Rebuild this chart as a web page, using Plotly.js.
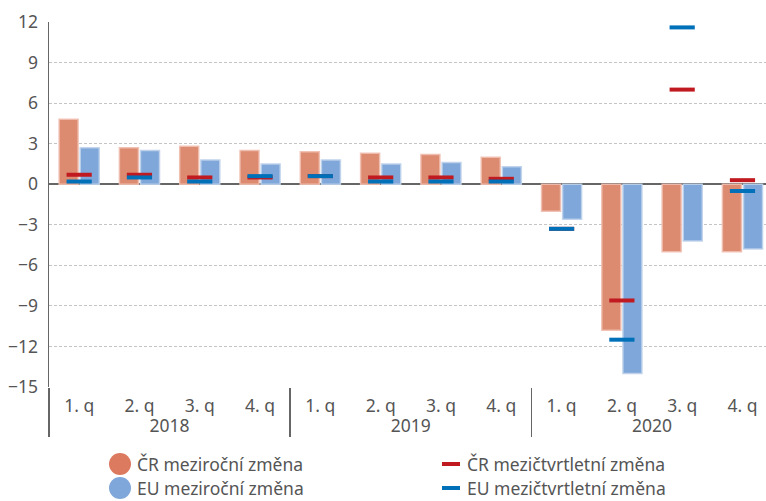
<!DOCTYPE html>
<html>
<head>
<meta charset="utf-8">
<script src="https://cdn.plot.ly/plotly-3.0.1.min.js"></script>
<style>html,body{margin:0;padding:0;background:#fff;}#chart{width:766px;height:501px;}</style>
</head>
<body>
<div id="chart"></div>
<script>
// ---- data ----
var years = ["2018","2018","2018","2018","2019","2019","2019","2019","2020","2020","2020","2020"];
var quarters = ["1. q","2. q","3. q","4. q","1. q","2. q","3. q","4. q","1. q","2. q","3. q","4. q"];
var crYoY = [4.8, 2.7, 2.8, 2.5, 2.4, 2.3, 2.2, 2.0, -2.0, -10.8, -5.0, -5.0];
var euYoY = [2.7, 2.5, 1.8, 1.5, 1.8, 1.5, 1.6, 1.3, -2.6, -14.0, -4.2, -4.8];
var crQoQ = [0.7, 0.7, 0.5, 0.5, 0.6, 0.5, 0.5, 0.4, -3.3, -8.6, 7.0, 0.3];
var euQoQ = [0.2, 0.5, 0.2, 0.6, 0.6, 0.2, 0.2, 0.2, -3.3, -11.5, 11.6, -0.5];
var seriesNames = ["ČR meziroční změna", "EU meziroční změna", "ČR mezičtvrtletní změna", "EU mezičtvrtletní změna"];
var yTicks = [-15, -12, -9, -6, -3, 0, 3, 6, 9, 12];

// ---- styles ----
var FONT = "'Noto Sans', 'Open Sans', sans-serif";
var FS = 17.5;
var TXT = "#555555";
var cCR = "rgb(220,138,112)", cEU = "rgb(127,167,217)";
var cCRq = "rgb(192,26,32)", cEUq = "rgb(0,112,185)";
var x = [years, quarters];

var traces = [
  {type:"bar", name:seriesNames[0], x:x, y:crYoY, marker:{color:cCR, line:{color:"rgba(240,190,175,0.9)", width:1.5}}, showlegend:false, hoverinfo:"y"},
  {type:"bar", name:seriesNames[1], x:x, y:euYoY, marker:{color:cEU, line:{color:"rgba(190,210,235,0.9)", width:1.5}}, showlegend:false, hoverinfo:"y"},
  {type:"scatter", mode:"markers", name:seriesNames[2], x:x, y:crQoQ, marker:{symbol:"line-ew", size:18, line:{color:cCRq, width:4}}, showlegend:false, cliponaxis:false},
  {type:"scatter", mode:"markers", name:seriesNames[3], x:x, y:euQoQ, marker:{symbol:"line-ew", size:18, line:{color:cEUq, width:4}}, showlegend:false, cliponaxis:false}
];

// legend drawn in paper coordinates
var L = 49, R = 766, T = 22, B = 387;
function px(v){ return (v - L) / (R - L); }
function py(v){ return (B - v) / (B - T); }
var legendRows = [464, 488];
var shapes = [
  {type:"circle", xref:"paper", yref:"paper", xsizemode:"pixel", ysizemode:"pixel", xanchor:px(120), yanchor:py(legendRows[0]), x0:-11, x1:11, y0:-11, y1:11, fillcolor:"rgb(220,122,96)", line:{width:0}},
  {type:"circle", xref:"paper", yref:"paper", xsizemode:"pixel", ysizemode:"pixel", xanchor:px(120), yanchor:py(legendRows[1]), x0:-11, x1:11, y0:-11, y1:11, fillcolor:cEU, line:{width:0}},
  {type:"rect", xref:"paper", yref:"paper", ysizemode:"pixel", yanchor:py(legendRows[0]), x0:px(442), x1:px(460), y0:-2, y1:2, fillcolor:cCRq, line:{width:0}},
  {type:"rect", xref:"paper", yref:"paper", ysizemode:"pixel", yanchor:py(legendRows[1]), x0:px(442), x1:px(460), y0:-2, y1:2, fillcolor:cEUq, line:{width:0}}
];
var annFont = {family:FONT, size:FS, color:TXT};
var annotations = [
  {xref:"paper", yref:"paper", x:px(135), y:py(legendRows[0]), text:seriesNames[0], showarrow:false, xanchor:"left", yanchor:"middle", font:annFont},
  {xref:"paper", yref:"paper", x:px(135), y:py(legendRows[1]), text:seriesNames[1], showarrow:false, xanchor:"left", yanchor:"middle", font:annFont},
  {xref:"paper", yref:"paper", x:px(465), y:py(legendRows[0]), text:seriesNames[2], showarrow:false, xanchor:"left", yanchor:"middle", font:annFont},
  {xref:"paper", yref:"paper", x:px(465), y:py(legendRows[1]), text:seriesNames[3], showarrow:false, xanchor:"left", yanchor:"middle", font:annFont}
];

var layout = {
  width:766, height:501,
  margin:{l:L, r:0, t:T, b:501-B, pad:0},
  paper_bgcolor:"#fff", plot_bgcolor:"#fff",
  font:{family:FONT, size:FS, color:TXT},
  barmode:"group", bargap:0.3, bargroupgap:0.1,
  showlegend:false,
  xaxis:{type:"multicategory", range:[-0.5, 11.39], showgrid:false, zeroline:false, showline:false,
         ticks:"", showdividers:true, dividercolor:"#666", dividerwidth:1.5, ticklabelstandoff:6,
         tickfont:{family:FONT, size:FS, color:TXT}},
  yaxis:{range:[-15, 12], tickvals:yTicks, showgrid:true, gridcolor:"#c4c4c4", griddash:"3px,2px", gridwidth:1,
         zeroline:true, zerolinecolor:"#666", zerolinewidth:2,
         showline:true, linecolor:"#666", linewidth:1.5, ticks:"", ticklabelstandoff:6,
         tickfont:{family:FONT, size:FS, color:TXT}},
  shapes:shapes, annotations:annotations
};
Plotly.newPlot("chart", traces, layout, {displayModeBar:false, staticPlot:true});
</script>
</body>
</html>
